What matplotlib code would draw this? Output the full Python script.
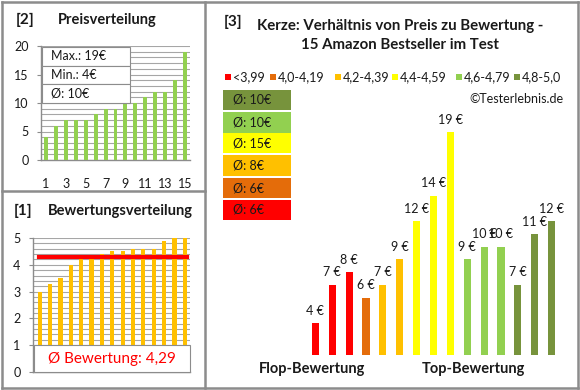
import matplotlib
matplotlib.use("Agg")
import matplotlib.pyplot as plt
from matplotlib.patches import Rectangle
from matplotlib.lines import Line2D
from matplotlib.ticker import MultipleLocator
import numpy as np

plt.rcParams['font.family'] = ['Lato', 'DejaVu Sans']

# data
prices = [4, 6, 7, 7, 7, 8, 9, 9, 10, 10, 11, 12, 12, 14, 19]
ratings = [3.0, 3.3, 3.5, 4.0, 4.2, 4.2, 4.4, 4.5, 4.5, 4.6, 4.6, 4.6, 4.9, 5.0, 5.0]
avg_rating = 4.29
price_stats = ["Max.: 19€", "Min.: 4€", "Ø: 10€"]

ratio_prices = [4, 7, 8, 6, 7, 9, 12, 14, 19, 9, 10, 10, 7, 11, 12]
ratio_groups = [0, 0, 0, 1, 2, 2, 3, 3, 3, 4, 4, 4, 5, 5, 5]
group_labels = ["<3,99", "4,0-4,19", "4,2-4,39", "4,4-4,59", "4,6-4,79", "4,8-5,0"]
group_colors = ["#FF0000", "#E46C0A", "#FFC000", "#FFFF00", "#92D050", "#77933C"]
group_avgs = ["Ø: 6€", "Ø: 6€", "Ø: 8€", "Ø: 15€", "Ø: 10€", "Ø: 10€"]

W, H = 580, 390
fig = plt.figure(figsize=(W / 100, H / 100), dpi=100)
TXT = "#1a1a1a"
BORDER = "#8c8c8c"
GRID = "#a6a6a6"


def box(x0, y0, x1, y1):
    # pixel box (top-left origin) -> figure fraction rect
    return [x0 / W, 1 - y1 / H, (x1 - x0) / W, (y1 - y0) / H]


def fx(x):
    return x / W


def fy(y):
    return 1 - y / H


def rect(x0, y0, x1, y1, fc, ec=None, lw=1.0, z=5):
    r = Rectangle((fx(x0), fy(y1)), fx(x1) - fx(x0), fy(y0) - fy(y1),
                  transform=fig.transFigure, facecolor=fc,
                  edgecolor=ec if ec else 'none', linewidth=lw, zorder=z)
    fig.add_artist(r)


def line(x0, y0, x1, y1, color=BORDER, lw=1.8):
    fig.add_artist(Line2D([fx(x0), fx(x1)], [fy(y0), fy(y1)], color=color,
                          linewidth=lw, transform=fig.transFigure))


# frame lines
line(2, 2, 578, 2)
line(2, 388, 578, 388)
line(2, 2, 2, 388)
line(578, 2, 578, 388)
line(205, 2, 205, 388)
line(2, 191, 205, 191)


def style_small(ax):
    for s in ['top', 'right']:
        ax.spines[s].set_visible(False)
    for s in ['left', 'bottom']:
        ax.spines[s].set_color(BORDER)
        ax.spines[s].set_linewidth(1.0)
    ax.set_axisbelow(True)
    ax.grid(axis='y', which='both', color=GRID, linewidth=0.8)
    ax.tick_params(axis='y', which='major', length=3, color=BORDER,
                   labelsize=9, labelcolor=TXT, pad=6)
    ax.tick_params(axis='y', which='minor', length=0)


# [2] Preisverteilung
ax1 = fig.add_axes(box(41, 46, 190, 160))
x = np.arange(1, len(prices) + 1)
ax1.bar(x, prices, width=0.4, color="#92D050", zorder=3)
ax1.set_xlim(0.5, 15.5)
ax1.set_ylim(0, 20)
ax1.yaxis.set_major_locator(MultipleLocator(5))
ax1.yaxis.set_minor_locator(MultipleLocator(1))
ax1.set_xticks(range(1, 16, 2))
style_small(ax1)
ax1.tick_params(axis='x', length=0, labelsize=9, labelcolor=TXT, pad=13)
fig.text(fx(16), fy(20), "[2]", fontsize=11, fontweight='bold', color=TXT, va='center')
fig.text(fx(58), fy(20), "Preisverteilung", fontsize=10.5, fontweight='bold', color=TXT, va='center')

stat_rows = [(47, 66), (66, 84), (84, 103)]
for (y0, y1), s in zip(stat_rows, price_stats):
    rect(42, y0, 130, y1, 'white', BORDER, 0.8, z=6)
    fig.text(fx(51), fy((y0 + y1) / 2), s, fontsize=9, color=TXT, va='center', zorder=7)

# [1] Bewertungsverteilung
ax2 = fig.add_axes(box(33, 238, 190, 372))
x2 = np.arange(1, len(ratings) + 1)
ax2.bar(x2, ratings, width=0.4, color="#FFC000", zorder=3)
ax2.plot([0.9, 15.2], [avg_rating, avg_rating], color="#FF0000", linewidth=3, zorder=4)
ax2.set_xlim(0.35, 15.5)
ax2.set_ylim(0, 5)
ax2.yaxis.set_major_locator(MultipleLocator(1))
ax2.yaxis.set_minor_locator(MultipleLocator(0.2))
ax2.set_xticks([])
style_small(ax2)
fig.text(fx(14), fy(211), "[1]", fontsize=11, fontweight='bold', color=TXT, va='center')
fig.text(fx(48), fy(211), "Bewertungsverteilung", fontsize=10.5, fontweight='bold', color=TXT, va='center')
rect(34, 345, 190, 372, 'white', BORDER, 0.8, z=6)
fig.text(fx(112), fy(359), "Ø Bewertung: 4,29", fontsize=11, color="#FF0000",
         ha='center', va='center', zorder=7)

# [3] Verhaeltnis Preis / Bewertung
ax3 = fig.add_axes(box(307, 100, 560, 355))
xi = np.arange(len(ratio_prices))
cols = [group_colors[g] for g in ratio_groups]
ax3.bar(xi, ratio_prices, width=0.42, color=cols, bottom=0)
for i, v in zip(xi, ratio_prices):
    ax3.text(i, v + 0.5, f"{v} €", ha='center', va='bottom', fontsize=9, color=TXT)
ax3.set_xlim(-0.5, 14.5)
ax3.set_ylim(1.5, 21.5)
ax3.axis('off')

fig.text(fx(233), fy(22), "[3]", fontsize=11, fontweight='bold', color=TXT, va='center', ha='center')
fig.text(fx(400), fy(26), "Kerze: Verhältnis von Preis zu Bewertung -", fontsize=10.8,
         fontweight='bold', color=TXT, va='center', ha='center')
fig.text(fx(400), fy(45), "15 Amazon Bestseller im Test", fontsize=10.8,
         fontweight='bold', color=TXT, va='center', ha='center')

leg_sq = [228, 273, 338, 395, 459, 517]
for xs, lab, c in zip(leg_sq, group_labels, group_colors):
    rect(xs - 3, 74, xs + 3, 80, c)
    fig.text(fx(xs + 5), fy(77), lab, fontsize=9, color=TXT, va='center')

fig.text(fx(564), fy(99), "©Testerlebnis.de", fontsize=9, color=TXT, va='center', ha='right')

box_rows = [(200, 220), (178, 198), (155, 176), (133, 153), (112, 133), (90, 110)]
for (y0, y1), c, t in zip(box_rows, group_colors, group_avgs):
    rect(223, y0, 291, y1, c)
    fig.text(fx(233), fy((y0 + y1) / 2), t, fontsize=9, color=TXT, va='center', zorder=7)

fig.text(fx(312), fy(369), "Flop-Bewertung", fontsize=10.5, fontweight='bold', color=TXT,
         ha='center', va='center')
fig.text(fx(473), fy(369), "Top-Bewertung", fontsize=10.5, fontweight='bold', color=TXT,
         ha='center', va='center')

fig.savefig("out.png", dpi=100)
